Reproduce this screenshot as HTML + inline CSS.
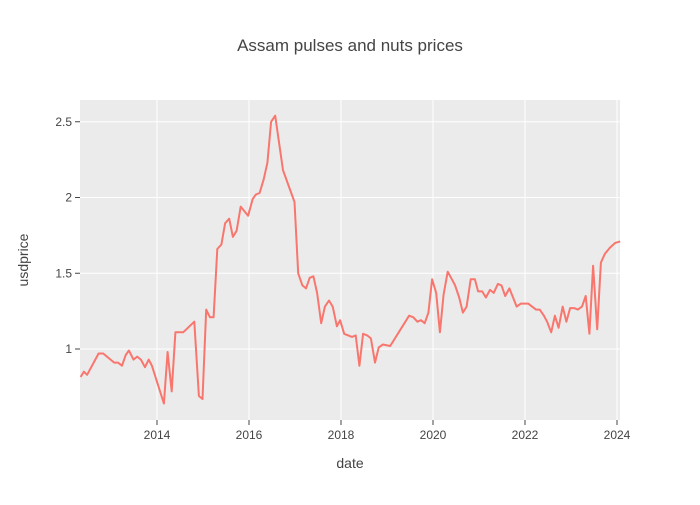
<!DOCTYPE html>
<html><head><meta charset="utf-8"><style>
body{margin:0;background:#fff;font-family:"Liberation Sans",sans-serif}
</style></head><body>
<svg width="700" height="500" id="chart" xmlns="http://www.w3.org/2000/svg">
<rect width="700" height="500" fill="#fff"/>
<rect x="80" y="100" width="540" height="320" fill="#ebebeb"/>
<g id="grid"></g><g id="series"></g><g id="axes"></g>
<text x="350" y="51" text-anchor="middle" font-size="17" fill="#444">Assam pulses and nuts prices</text>
<text x="350" y="468" text-anchor="middle" font-size="14" fill="#444">date</text>
<text transform="translate(28,260) rotate(-90)" text-anchor="middle" font-size="14" fill="#444">usdprice</text>
</svg>
<script>
const dates=[2012.34,2012.41,2012.48,2012.73,2012.83,2013.07,2013.15,2013.24,2013.32,2013.39,2013.49,2013.57,2013.65,2013.74,2013.82,2013.89,2014.15,2014.23,2014.32,2014.40,2014.57,2014.81,2014.91,2014.99,2015.07,2015.15,2015.23,2015.31,2015.40,2015.48,2015.57,2015.65,2015.73,2015.82,2015.98,2016.08,2016.15,2016.23,2016.32,2016.40,2016.48,2016.57,2016.74,2016.99,2017.07,2017.16,2017.24,2017.32,2017.40,2017.48,2017.57,2017.65,2017.74,2017.82,2017.91,2017.98,2018.07,2018.24,2018.32,2018.40,2018.48,2018.57,2018.65,2018.74,2018.82,2018.91,2019.07,2019.48,2019.57,2019.66,2019.74,2019.82,2019.90,2019.98,2020.07,2020.15,2020.23,2020.32,2020.41,2020.48,2020.57,2020.65,2020.73,2020.82,2020.91,2020.98,2021.07,2021.15,2021.24,2021.32,2021.41,2021.49,2021.57,2021.66,2021.82,2021.91,2021.98,2022.07,2022.24,2022.32,2022.41,2022.48,2022.57,2022.65,2022.73,2022.82,2022.90,2022.98,2023.07,2023.15,2023.24,2023.32,2023.40,2023.48,2023.57,2023.65,2023.74,2023.85,2023.96,2024.07];
const prices=[0.815,0.85,0.83,0.97,0.97,0.91,0.91,0.89,0.96,0.99,0.93,0.95,0.93,0.88,0.93,0.89,0.64,0.98,0.72,1.11,1.11,1.18,0.69,0.67,1.26,1.21,1.21,1.66,1.69,1.83,1.86,1.74,1.78,1.94,1.88,1.99,2.02,2.03,2.12,2.23,2.50,2.54,2.18,1.97,1.50,1.42,1.40,1.47,1.48,1.37,1.17,1.28,1.32,1.28,1.15,1.19,1.10,1.08,1.09,0.89,1.10,1.09,1.07,0.91,1.01,1.03,1.02,1.22,1.21,1.18,1.19,1.17,1.24,1.46,1.37,1.11,1.36,1.51,1.46,1.42,1.34,1.24,1.28,1.46,1.46,1.38,1.38,1.34,1.39,1.37,1.43,1.42,1.35,1.40,1.28,1.30,1.30,1.30,1.26,1.26,1.22,1.18,1.11,1.22,1.14,1.28,1.18,1.27,1.27,1.26,1.28,1.35,1.10,1.55,1.13,1.57,1.63,1.67,1.70,1.71];
const xTicks=[2014,2016,2018,2020,2022,2024];
const yTicks=[1,1.5,2,2.5];
const NS="http://www.w3.org/2000/svg";
const X=v=>157+(v-2014)*46;
const Y=v=>349-(v-1)*151.5;
function mk(t,a,p){const e=document.createElementNS(NS,t);for(const k in a)e.setAttribute(k,a[k]);p.appendChild(e);return e;}
const grid=document.getElementById('grid'),axes=document.getElementById('axes'),ser=document.getElementById('series');
xTicks.forEach(t=>{
 const l=mk('line',{x1:X(t),x2:X(t),y1:100,y2:420,stroke:'#fff','stroke-width':1},grid);
 
 
 const tk=mk('line',{x1:X(t),x2:X(t),y1:420,y2:425,stroke:'#444'},axes);
 
 
 const tx=mk('text',{x:X(t),y:439,'text-anchor':'middle','font-size':12,fill:'#444'},axes);
 tx.textContent=t;
 
 
});
yTicks.forEach(t=>{
 const l=mk('line',{x1:80,x2:620,y1:Y(t),y2:Y(t),stroke:'#fff','stroke-width':1},grid);
 
 
 const tk=mk('line',{x1:75,x2:80,y1:Y(t),y2:Y(t),stroke:'#444'},axes);
 
 
 const tx=mk('text',{x:72,y:Y(t)+4,'text-anchor':'end','font-size':12,fill:'#444'},axes);
 tx.textContent=String(t);
 
 
});
const pts=dates.map((d,i)=>X(d).toFixed(1)+','+Y(prices[i]).toFixed(1)).join(' ');
const pl=mk('polyline',{points:pts,fill:'none',stroke:'#f8766d','stroke-width':2,'stroke-linejoin':'round'},ser);


</script>
</body></html>
